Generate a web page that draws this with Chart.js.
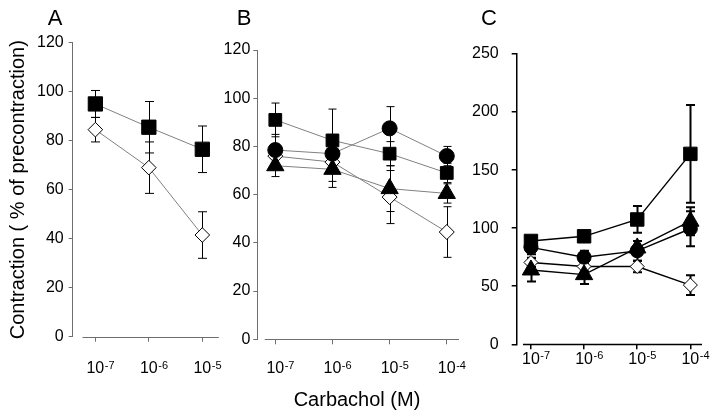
<!DOCTYPE html>
<html>
<head>
<meta charset="utf-8">
<script src="https://cdn.jsdelivr.net/npm/chart.js@4.4.1/dist/chart.umd.min.js"></script>
<style>
  html, body { margin: 0; padding: 0; background: #fff; }
  #wrap { position: relative; width: 713px; height: 413px; overflow: hidden;
          font-family: "Liberation Sans", Arial, sans-serif; color: #000; }
  canvas { position: absolute; top: 0; }
  .txt { position: absolute; white-space: nowrap; transform: translateX(-50%); }
  .letter { top: 7px; font-size: 22px; line-height: 22px; }
</style>
</head>
<body>
<div id="wrap">
  <canvas id="chartA" width="230" height="413" style="left:0"></canvas>
  <canvas id="chartB" width="246" height="413" style="left:224px"></canvas>
  <canvas id="chartC" width="247" height="413" style="left:466px"></canvas>
  <div class="txt letter" style="left:55px">A</div>
  <div class="txt letter" style="left:244px">B</div>
  <div class="txt letter" style="left:489px">C</div>
  <div class="txt" style="left:357px;top:387px;font-size:20px;line-height:24px">Carbachol (M)</div>
</div>

<script>
    // carbachol concentrations (M)
    const concA = [1e-7, 1e-6, 1e-5];
    const concBC = [1e-7, 1e-6, 1e-5, 1e-4];

    // panel A: mean and SEM
    const squareA = [95, 85.5, 76.5];
    const squareAErr = [5.5, 10.5, 9.5];
    const diamondA = [84.5, 69, 41.5];
    const diamondAErr = [5, 10.5, 9.5];

    // panel B
    const squareB = [91, 82.5, 77, 69];
    const squareBErr = [7, 13, 5, 4];
    const circleB = [78.5, 77, 87.5, 76];
    const circleBErr = [6.5, 6, 9, 4];
    const triangleB = [72, 70.5, 62.5, 60.5];
    const triangleBErr = [4.5, 7.5, 9.5, 4];
    const diamondB = [76, 73.5, 59, 44.5];
    const diamondBErr = [5, 8, 11, 10.5];

    // panel C
    const squareC = [89, 93, 107.5, 164];
    const squareCErr = [4, 3, 11.5, 42];
    const circleC = [83.5, 75, 80.5, 99.5];
    const circleCErr = [6, 5.5, 8.5, 15];
    const triangleC = [64, 60, 83, 106];
    const triangleCErr = [10, 8, 6, 12];
    const diamondC = [70.5, 67, 67, 51];
    const diamondCErr = [4, 4, 5, 8.5];

    const FONT = '"Liberation Sans", Arial, sans-serif';

    function pts(conc, vals) {
        return conc.map((c, i) => ({ x: c, y: vals[i] }));
    }

    function series(conc, vals, errs, style, radius, filled, lineColor, lineWidth) {
        return {
            data: pts(conc, vals),
            errors: errs,
            pointStyle: style,
            pointRadius: radius,
            pointBackgroundColor: filled ? '#000' : '#fff',
            pointBorderColor: '#000',
            pointBorderWidth: 1,
            borderColor: lineColor,
            borderWidth: lineWidth,
            tension: 0,
            fill: false
        };
    }

    // vertical SEM bars with caps, drawn behind the markers
    const errorBars = {
        id: 'errorBars',
        beforeDatasetsDraw(chart, args, opts) {
            const ctx = chart.ctx;
            const yScale = chart.scales.y;
            ctx.save();
            ctx.strokeStyle = '#000';
            ctx.lineWidth = opts.width;
            chart.data.datasets.forEach((ds, i) => {
                const meta = chart.getDatasetMeta(i);
                meta.data.forEach((el, j) => {
                    const v = ds.data[j].y;
                    const e = ds.errors[j];
                    const top = yScale.getPixelForValue(v + e);
                    const bot = yScale.getPixelForValue(v - e);
                    const x = Math.round(el.x) + 0.5;
                    ctx.beginPath();
                    ctx.moveTo(x, top);
                    ctx.lineTo(x, bot);
                    ctx.moveTo(x - opts.cap, top);
                    ctx.lineTo(x + opts.cap, top);
                    ctx.moveTo(x - opts.cap, bot);
                    ctx.lineTo(x + opts.cap, bot);
                    ctx.stroke();
                });
            });
            ctx.restore();
        }
    };

    // detached x axis line and 10^n tick labels
    const logAxis = {
        id: 'logAxis',
        afterDraw(chart, args, opts) {
            const ctx = chart.ctx;
            const xScale = chart.scales.x;
            const area = chart.chartArea;
            ctx.save();
            ctx.strokeStyle = opts.color;
            ctx.lineWidth = opts.width;
            const y0 = Math.round(area.bottom) + (opts.width % 2 ? 0.5 : 0);
            ctx.beginPath();
            ctx.moveTo(xScale.getPixelForValue(opts.start), y0);
            ctx.lineTo(area.right, y0);
            ctx.stroke();

            ctx.fillStyle = '#000';
            ctx.textAlign = 'left';
            ctx.textBaseline = 'alphabetic';
            opts.ticks.forEach(c => {
                const px = xScale.getPixelForValue(c);
                const exp = String(Math.round(Math.log10(c)));
                ctx.font = '16px ' + FONT;
                const w = ctx.measureText('10').width;
                ctx.fillText('10', px - w / 2, opts.labelY);
                ctx.font = '11px ' + FONT;
                ctx.fillText(exp, px + w / 2 + 0.5, opts.labelY - 4.5);
            });
            ctx.restore();
        }
    };

    function makePanel(id, p) {
        new Chart(document.getElementById(id), {
            type: 'line',
            data: { datasets: p.datasets },
            plugins: [errorBars, logAxis],
            options: {
                responsive: false,
                animation: false,
                events: [],
                layout: { padding: p.padding },
                plugins: {
                    legend: { display: false },
                    tooltip: { enabled: false },
                    errorBars: { width: p.errWidth, cap: p.cap },
                    logAxis: { color: p.axisColor, width: p.axisWidth, start: p.xStart,
                               ticks: p.conc, labelY: p.labelY }
                },
                scales: {
                    x: {
                        type: 'logarithmic',
                        min: p.xMin,
                        max: p.xMax,
                        afterBuildTicks: s => { s.ticks = p.conc.map(v => ({ value: v })); },
                        afterFit: s => { s.height = p.xHeight; },
                        ticks: { display: false },
                        border: { display: false },
                        grid: { drawOnChartArea: false, tickLength: 5, color: p.axisColor,
                                lineWidth: p.axisWidth }
                    },
                    y: {
                        min: 0,
                        max: p.yMax,
                        afterFit: s => { s.width = p.yWidth; },
                        ticks: { stepSize: p.yStep, padding: p.yPad, color: '#000',
                                 font: { family: FONT, size: 16 } },
                        border: { color: p.axisColor, width: p.axisWidth },
                        grid: { drawOnChartArea: false, tickLength: p.yTick, color: p.axisColor,
                                lineWidth: p.axisWidth },
                        title: {
                            display: !!p.yTitle,
                            text: p.yTitle,
                            color: '#000',
                            font: { family: FONT, size: 20 },
                            padding: { top: 6, bottom: 0 }
                        }
                    }
                }
            }
        });
    }

    const grey = '#808080';

    makePanel('chartA', {
        conc: concA,
        datasets: [
            series(concA, squareA, squareAErr, 'rect', 10.1, true, grey, 1),
            series(concA, diamondA, diamondAErr, 'rectRot', 7.3, false, grey, 1)
        ],
        padding: { left: 0, right: 7, top: 42.7, bottom: 36.3 },
        xMin: Math.pow(10, -7.424), xMax: Math.pow(10, -4.69), xStart: Math.pow(10, -7.24),
        xHeight: 40, yWidth: 72.7, yMax: 120, yStep: 20, yPad: 5, yTick: 4,
        yTitle: 'Contraction ( % of precontraction)',
        axisColor: '#6e6e6e', axisWidth: 1, errWidth: 1, cap: 4.5, labelY: 373
    });

    makePanel('chartB', {
        conc: concBC,
        datasets: [
            series(concBC, squareB, squareBErr, 'rect', 9, true, grey, 1),
            series(concBC, circleB, circleBErr, 'circle', 7.5, true, grey, 1),
            series(concBC, triangleB, triangleBErr, 'triangle', 10, true, grey, 1),
            series(concBC, diamondB, diamondBErr, 'rectRot', 7.5, false, grey, 1)
        ],
        padding: { left: 0, right: 3, top: 50, bottom: 33.7 },
        xMin: Math.pow(10, -7.315), xMax: Math.pow(10, -3.786), xStart: Math.pow(10, -7.185),
        xHeight: 40, yWidth: 33.3, yMax: 120, yStep: 20, yPad: 3, yTick: 4,
        axisColor: '#6e6e6e', axisWidth: 1, errWidth: 1, cap: 4, labelY: 373
    });

    makePanel('chartC', {
        conc: concBC,
        datasets: [
            series(concBC, squareC, squareCErr, 'rect', 9.5, true, '#000', 1.4),
            series(concBC, circleC, circleCErr, 'circle', 7, true, '#000', 1.4),
            series(concBC, triangleC, triangleCErr, 'triangle', 10, true, '#000', 1.4),
            series(concBC, diamondC, diamondCErr, 'rectRot', 7, false, '#000', 1.4)
        ],
        padding: { left: 0, right: 10, top: 54, bottom: 28.7 },
        xMin: Math.pow(10, -7.268), xMax: Math.pow(10, -3.781), xStart: Math.pow(10, -7.15),
        xHeight: 40, yWidth: 50.7, yMax: 250, yStep: 50, yPad: 13, yTick: 5,
        axisColor: '#000', axisWidth: 1.5, errWidth: 2, cap: 4.5, labelY: 363.5
    });
</script>
</body>
</html>
